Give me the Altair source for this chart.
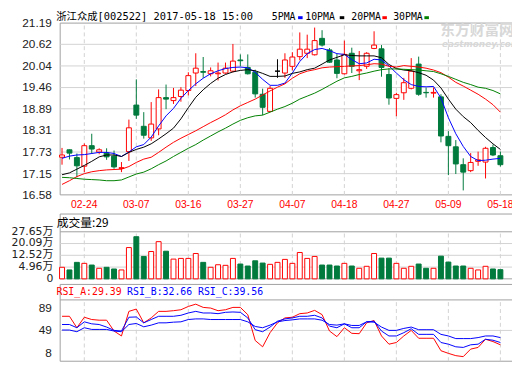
import altair as alt
import pandas as pd

# ---------------- data ----------------
dates = ["02-21","02-22","02-23","02-24","02-27","02-28","03-01","03-02","03-03","03-06",
         "03-07","03-08","03-09","03-10","03-13","03-14","03-15","03-16","03-17","03-20",
         "03-21","03-22","03-23","03-24","03-27","03-28","03-29","03-30","03-31","04-05",
         "04-06","04-07","04-10","04-11","04-12","04-13","04-14","04-17","04-18","04-19",
         "04-20","04-21","04-24","04-25","04-26","04-27","04-28","05-02","05-03","05-04",
         "05-05","05-08","05-09","05-10","05-11","05-12","05-15","05-16","05-17","05-18"]
open_ = [17.59,17.79,17.58,17.35,17.90,17.73,17.70,17.62,17.29,17.74,
         18.99,18.42,18.11,18.35,19.19,19.11,19.22,19.38,19.85,19.89,
         19.83,19.83,19.85,19.90,20.20,20.00,19.87,19.28,18.82,19.90,
         19.85,20.03,20.29,20.38,20.34,20.78,20.47,20.20,19.83,20.38,
         19.91,20.03,20.51,20.50,19.81,19.17,19.32,19.44,20.09,19.33,
         19.31,19.21,18.15,17.87,17.39,17.23,17.48,17.46,17.85,17.63]
high = [17.84,17.80,17.69,17.96,18.22,17.83,17.83,17.77,17.46,18.60,
        19.68,18.80,19.07,19.41,19.54,19.45,19.47,19.87,20.38,20.28,
        20.00,20.13,20.13,20.63,20.35,20.35,19.94,19.43,19.50,20.22,
        20.38,20.41,20.94,20.88,21.07,21.00,20.52,20.36,20.72,20.53,
        20.44,20.41,20.97,20.60,19.98,19.32,19.72,20.25,20.29,19.46,
        19.46,19.28,18.29,18.05,17.56,17.70,17.74,17.87,17.93,17.74]
low = [17.39,17.53,17.05,17.19,17.68,17.67,17.52,17.28,17.19,17.49,
       18.62,18.09,18.03,18.18,18.88,19.02,19.08,19.25,19.50,19.72,
       19.76,19.65,19.83,19.87,20.03,19.81,19.19,18.72,18.80,19.72,
       19.72,19.92,20.19,20.25,20.32,20.56,20.12,19.71,19.81,19.85,
       19.66,19.96,20.49,19.75,19.00,18.69,19.13,19.41,19.24,19.19,
       19.19,17.99,17.11,17.14,16.70,17.19,17.36,17.02,17.62,17.34]
close = [17.65,17.70,17.36,17.90,17.81,17.79,17.60,17.33,17.31,18.38,
         18.72,18.18,18.48,19.19,19.15,19.19,19.39,19.78,19.98,19.87,
         19.91,19.85,19.98,20.17,20.18,19.83,19.29,18.93,19.44,19.90,
         20.20,20.28,20.49,20.49,20.72,20.60,20.14,19.84,20.35,20.03,
         19.94,20.38,20.60,20.00,19.18,19.27,19.59,19.90,19.28,19.32,
         19.33,18.16,17.90,17.41,17.19,17.45,17.52,17.83,17.65,17.39]
ma5 = [17.56,17.62,17.65,17.66,17.69,17.72,17.72,17.69,17.61,17.73,
       17.87,17.93,18.13,18.43,18.70,18.90,19.17,19.38,19.56,19.71,
       19.83,19.91,19.97,20.00,20.01,19.99,19.87,19.68,19.52,19.52,
       19.58,19.85,20.16,20.37,20.48,20.51,20.45,20.37,20.35,20.21,
       20.10,20.12,20.22,20.20,20.04,19.85,19.67,19.54,19.49,19.48,
       19.49,19.18,18.65,18.22,17.88,17.61,17.50,17.51,17.54,17.56]
ma10 = [17.12,17.17,17.27,17.37,17.48,17.60,17.65,17.65,17.61,17.72,
        17.80,17.86,17.95,18.08,18.22,18.37,18.62,18.92,19.20,19.40,
        19.57,19.71,19.81,19.88,19.92,19.94,19.91,19.84,19.76,19.76,
        19.77,19.84,19.88,19.94,19.98,20.09,20.20,20.27,20.34,20.32,
        20.31,20.31,20.31,20.26,20.08,19.97,19.93,19.91,19.86,19.79,
        19.66,19.45,19.15,18.88,18.68,18.52,18.31,18.12,17.95,17.80]
ma20 = [16.86,16.96,17.07,17.15,17.20,17.23,17.25,17.26,17.27,17.34,
        17.45,17.54,17.59,17.72,17.86,17.99,18.10,18.20,18.30,18.41,
        18.52,18.62,18.73,18.86,18.97,19.06,19.15,19.26,19.37,19.47,
        19.56,19.71,19.83,19.90,19.94,19.99,20.01,20.02,20.03,20.04,
        20.05,20.07,20.10,20.09,20.03,20.01,20.05,20.03,20.01,19.98,
        19.93,19.86,19.74,19.60,19.50,19.39,19.28,19.15,19.00,18.80]
ma30 = [17.05,17.04,17.02,17.00,16.99,16.98,16.96,16.96,16.98,17.06,
        17.14,17.19,17.28,17.39,17.49,17.61,17.72,17.83,17.93,18.05,
        18.16,18.27,18.37,18.48,18.58,18.65,18.70,18.72,18.80,18.88,
        18.95,19.04,19.15,19.23,19.31,19.41,19.52,19.63,19.72,19.76,
        19.81,19.85,19.90,19.94,19.96,19.96,19.95,19.94,19.93,19.91,
        19.89,19.83,19.76,19.68,19.60,19.54,19.47,19.44,19.38,19.29]
volume = [4.83,3.12,7.99,7.36,6.28,4.19,4.83,3.75,3.12,17.50,
          24.48,11.80,14.97,21.31,15.16,10.09,10.53,10.53,13.70,7.99,
          4.83,6.47,6.09,10.53,6.92,5.65,9.01,7.55,6.73,7.99,
          9.90,7.36,14.34,10.53,11.80,6.28,6.28,5.65,7.36,5.65,
          4.19,5.46,13.70,10.72,10.72,7.36,4.19,5.46,6.92,4.19,
          4.19,11.99,8.18,5.65,5.65,4.19,3.12,5.46,3.75,3.31]
rsi_a = [74.3,74.3,53.8,72.6,68.5,67.3,67.3,48.0,39.1,83.1,
         87.2,62.6,71.4,83.1,83.1,84.3,86.0,91.9,96.0,90.2,
         89.0,84.3,86.0,90.2,90.2,77.2,31.0,19.7,45.0,62.6,
         71.4,72.6,79.0,80.2,84.9,77.3,47.9,37.9,53.8,43.8,
         43.2,62.6,66.7,39.1,24.4,27.4,39.1,49.1,35.0,35.0,
         35.0,12.7,8.0,3.9,2.1,15.6,18.6,33.2,29.1,23.3]
rsi_b = [59.6,59.6,53.8,64.4,60.8,59.6,55.0,49.1,47.9,72.6,
         73.1,62.6,68.5,74.3,74.3,74.3,76.1,80.2,83.1,80.2,
         80.2,79.0,81.4,82.0,81.4,71.4,50.3,46.7,55.0,65.5,
         69.6,71.4,74.3,74.3,76.1,71.4,56.7,53.8,60.8,53.8,
         53.8,64.4,65.5,47.9,39.1,39.1,45.0,52.0,42.0,42.0,
         42.0,27.4,24.4,19.7,18.6,23.3,24.4,33.2,31.5,27.4]
rsi_c = [49.7,49.7,46.7,53.8,50.8,50.8,50.8,47.9,46.7,59.6,
         61.4,55.5,58.5,62.6,62.6,63.8,64.4,68.5,69.6,69.6,
         68.5,68.5,68.5,68.5,68.5,64.4,56.1,53.8,58.5,64.4,
         66.7,67.9,69.6,69.6,69.6,67.3,59.6,58.5,60.8,57.9,
         57.9,64.4,63.8,55.0,49.1,49.1,52.6,55.0,50.3,50.3,
         50.3,42.0,39.1,34.4,34.4,34.4,36.2,39.1,39.1,36.2]

price_ticks = [21.19, 20.62, 20.04, 19.46, 18.89, 18.31, 17.73, 17.15, 16.58]
vol_ticks = [27.65, 20.09, 12.52, 4.96]
vol_tick_labels = ["27.65万", "20.09万", "12.52万", "4.96万"]
rsi_ticks = [89, 49, 8]
date_ticks = ["02-24","03-07","03-16","03-27","04-07","04-18","04-27","05-09","05-18"]
ma_names = ["5PMA", "10PMA", "20PMA", "30PMA"]
rsi_names = ["RSI_A", "RSI_B", "RSI_C"]
rsi_last = ["29.39", "32.66", "39.56"]
stock_title = "浙江众成[002522] 2017-05-18 15:00"
vol_header = "成交量:29"

# ---------------- style / layout constants ----------------
RED = "#FF0000"
GREEN = "#007A3D"
BLUE = "#0000FF"
MAGREEN = "#008000"
BORDER = "#A0A0A0"
GRID = "#D2D2D2"
LABEL_FONT = "Liberation Sans"
MONO = "DejaVu Sans Mono, Noto Sans CJK SC"

XMIN, XMAX, XEND = -0.25, 59.9, 62
PMIN, PMAX = 16.58, 21.19
VMIN, VMAX, VHEAD = -2.59, 27.65, 39.06
RMIN, RMAX = 8, 89
RLO, RTOP, RHEAD = -6.1, 103.6, 131.3

xs = alt.Scale(domain=[XMIN, XMAX], range=[48, 512], nice=False, zero=False)
ps = alt.Scale(domain=[PMIN, PMAX], range=[187.0, 12.5], nice=False, zero=False)
vs = alt.Scale(domain=[VMIN, VMAX], range=[272.3, 224.5], nice=False, zero=False)
rs = alt.Scale(domain=[RMIN, RMAX], range=[348, 302], nice=False, zero=False)

n = len(dates)
idx = list(range(n))
df = pd.DataFrame({"i": idx, "date": dates, "open": open_, "high": high,
                   "low": low, "close": close, "vol": volume})
df["dir"] = ["up" if c > o else ("down" if c < o else "flat") for o, c in zip(open_, close)]
df["vdir"] = ["down" if c < o else "up" for o, c in zip(open_, close)]
tick_df = df[df["date"].isin(date_ticks)][["i", "date"]]

ma_df = pd.DataFrame({"i": idx * 4, "v": ma5 + ma10 + ma20 + ma30,
                      "s": sum([[nm] * n for nm in ma_names], [])})
rsi_df = pd.DataFrame({"i": idx * 3, "v": rsi_a + rsi_b + rsi_c,
                       "s": sum([[nm] * n for nm in rsi_names], [])})


def X(field="i"):
    return alt.X(f"{field}:Q", scale=xs, axis=None)


def Y(field, scale):
    return alt.Y(f"{field}:Q", scale=scale, axis=None)


one = pd.DataFrame({"k": [0]})
layers = []

# ----- frames and grids -----
def frame(scale, lo, hi, seps, grids):
    d = pd.DataFrame({"x0": [XMIN], "x1": [XEND], "y0": [lo], "y1": [hi]})
    out = [alt.Chart(d).mark_rect(fillOpacity=0, stroke=BORDER, strokeWidth=1).encode(
        x=X("x0"), x2="x1:Q", y=Y("y0", scale), y2="y1:Q")]
    if grids:
        g = pd.DataFrame({"v": grids, "x0": XMIN, "x1": XEND})
        out.append(alt.Chart(g).mark_rule(stroke=GRID, strokeWidth=1).encode(
            x=X("x0"), x2="x1:Q", y=Y("v", scale)))
    if seps:
        s = pd.DataFrame({"v": seps, "x0": XMIN, "x1": XEND})
        out.append(alt.Chart(s).mark_rule(stroke=BORDER, strokeWidth=1).encode(
            x=X("x0"), x2="x1:Q", y=Y("v", scale)))
    return out


def vdash(scale, lo, hi):
    d = tick_df.assign(y0=lo, y1=hi)
    return alt.Chart(d).mark_rule(stroke=GRID, strokeWidth=1, strokeDash=[4, 3]).encode(
        x=X(), y=Y("y0", scale), y2="y1:Q")


layers += frame(ps, PMIN, PMAX, [], price_ticks[1:-1])
layers.append(vdash(ps, PMIN, PMAX))
layers += frame(vs, VMIN, VHEAD, [VMAX], vol_ticks[1:])
layers.append(vdash(vs, VMIN, VMAX))
layers += frame(rs, RLO, RHEAD, [RTOP], [49])
layers.append(vdash(rs, RLO, RTOP))

# ----- watermark -----
layers.append(alt.Chart(one).mark_text(text="东方财富网", font="Noto Sans CJK SC", fontSize=15,
                                        fontWeight="bold", color="#D8D8D8", align="left",
                                        baseline="middle").encode(x=alt.value(439), y=alt.value(20)))
layers.append(alt.Chart(one).mark_text(text="eastmoney.com", font="DejaVu Sans", fontSize=9,
                                        fontWeight="bold", fontStyle="italic", color="#D8D8D8",
                                        align="left", baseline="middle").encode(x=alt.value(441), y=alt.value(34)))

# ----- volume bars -----
layers.append(alt.Chart(df).mark_bar(size=5, strokeWidth=1).encode(
    x=X(), y=Y("vol", vs), y2=alt.datum(VMIN),
    fill=alt.Fill("vdir:N", scale=alt.Scale(domain=["up", "down"], range=["white", GREEN]), legend=None),
    stroke=alt.Stroke("vdir:N", scale=alt.Scale(domain=["up", "down"], range=[RED, GREEN]), legend=None)))

# ----- RSI lines -----
layers.append(alt.Chart(rsi_df).mark_line(strokeWidth=1).encode(
    x=X(), y=Y("v", rs),
    color=alt.Color("s:N", scale=alt.Scale(domain=rsi_names, range=[RED, BLUE, BLUE]), legend=None)))

# ----- candles -----
dir_dom = ["up", "down", "flat"]
layers.append(alt.Chart(df).mark_rule(strokeWidth=1).encode(
    x=X(), y=Y("low", ps), y2="high:Q",
    stroke=alt.Stroke("dir:N", scale=alt.Scale(domain=dir_dom, range=[RED, GREEN, "black"]), legend=None)))
layers.append(alt.Chart(df).mark_bar(size=5, strokeWidth=1).encode(
    x=X(), y=Y("open", ps), y2="close:Q",
    fill=alt.Fill("dir:N", scale=alt.Scale(domain=dir_dom, range=["white", GREEN, "black"]), legend=None),
    stroke=alt.Stroke("dir:N", scale=alt.Scale(domain=dir_dom, range=[RED, GREEN, "black"]), legend=None)))

# ----- moving averages -----
ma_colors = [BLUE, "black", RED, MAGREEN]
layers.append(alt.Chart(ma_df).mark_line(strokeWidth=1).encode(
    x=X(), y=Y("v", ps),
    color=alt.Color("s:N", scale=alt.Scale(domain=ma_names, range=ma_colors), legend=None)))

# ----- axis labels -----
pt = pd.DataFrame({"v": price_ticks, "t": [f"{v:.2f}" for v in price_ticks]})
layers.append(alt.Chart(pt).mark_text(font=LABEL_FONT, fontSize=12, color="#222", align="right",
                                       baseline="middle").encode(x=alt.value(44.5), y=Y("v", ps), text="t:N"))
vt = pd.DataFrame({"v": vol_ticks + [VMIN], "t": vol_tick_labels + ["0"]})
layers.append(alt.Chart(vt).mark_text(font="DejaVu Sans, Noto Sans CJK SC", fontSize=11, color="#222",
                                       align="right", baseline="middle").encode(
    x=alt.value(46), y=Y("v", vs), text="t:N"))
rt = pd.DataFrame({"v": rsi_ticks, "t": [str(v) for v in rsi_ticks]})
layers.append(alt.Chart(rt).mark_text(font=LABEL_FONT, fontSize=12, color="#222", align="right",
                                       baseline="middle").encode(x=alt.value(44.5), y=Y("v", rs), text="t:N"))
layers.append(alt.Chart(tick_df).mark_text(font=LABEL_FONT, fontSize=10.5, color=RED, align="center",
                                            baseline="middle").encode(x=X(), y=alt.value(197.5), text="date:N"))

# ----- headers -----
layers.append(alt.Chart(one).mark_text(text=stock_title, font=MONO, fontSize=10.5, color="black",
                                        align="left", baseline="alphabetic").encode(
    x=alt.value(49), y=alt.value(9.5)))
leg_text_x = [268, 302, 348.7, 391.3]
leg_box_x = [294.7, 337, 380.3, 423]
for nm, col, tx, bx in zip(ma_names, ma_colors, leg_text_x, leg_box_x):
    layers.append(alt.Chart(one).mark_text(text=nm, font=MONO, fontSize=10, color="black",
                                            align="left", baseline="alphabetic").encode(
        x=alt.value(tx), y=alt.value(9.5)))
    layers.append(alt.Chart(one).mark_rect(color=col).encode(
        x=alt.value(bx), x2=alt.value(bx + 4.6), y=alt.value(5.5), y2=alt.value(8.5)))

layers.append(alt.Chart(one).mark_text(text=vol_header, font="Noto Sans CJK SC", fontSize=12,
                                        color="black", align="left", baseline="middle").encode(
    x=alt.value(49.5), y=alt.value(215.3)))
rsi_cols = [RED, BLUE, BLUE]
rsi_x = [49.3, 121, 193]
for nm, val, col, tx in zip(rsi_names, rsi_last, rsi_cols, rsi_x):
    layers.append(alt.Chart(one).mark_text(text=f"{nm}:{val}", font=MONO, fontSize=10, color=col,
                                            align="left", baseline="middle").encode(
        x=alt.value(tx), y=alt.value(286)))

chart = alt.layer(*layers).resolve_scale(
    y="independent", color="independent", fill="independent", stroke="independent"
).properties(
    width=512, height=357, autosize=alt.AutoSizeParams(type="none"), padding=0
).configure_view(stroke=None)

chart.save("out.html", embed_options={"renderer": "svg", "actions": False})
